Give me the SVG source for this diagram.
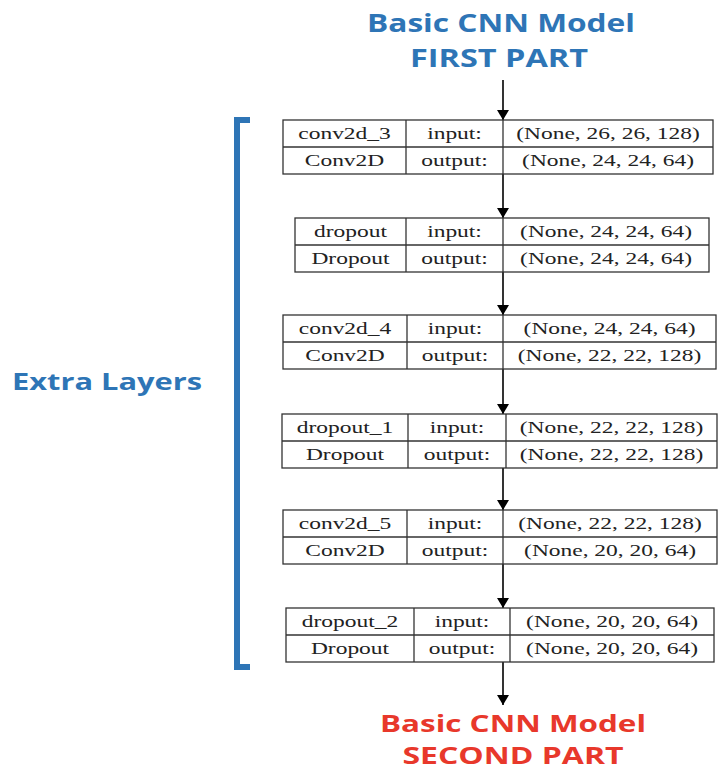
<svg xmlns="http://www.w3.org/2000/svg" width="718" height="771" viewBox="0 0 718 771">
<defs>
<marker id="ah" viewBox="0 0 10 12" refX="10" refY="6" markerWidth="10" markerHeight="12" markerUnits="userSpaceOnUse" orient="auto"><path d="M0,0 L10,6 L0,12 Z" fill="#000"/></marker>
<style>
.bx{fill:#fff;stroke:#333;stroke-width:1.3}
.ln{stroke:#333;stroke-width:1.3}
.t{font-family:"Liberation Serif","Times New Roman",serif;font-size:17px;fill:#222;text-anchor:middle}
.ti{font-family:"Open Sans","Noto Sans",sans-serif;font-weight:bold;text-anchor:middle}
.blue{fill:#2E75B6}
.red{fill:#E8382B}
.ar{stroke:#000;stroke-width:1.6;fill:none;marker-end:url(#ah)}
</style>
</defs>
<rect width="718" height="771" fill="#fff"/>

<g id="title-top">
<text class="ti blue" x="501" y="32" font-size="25" textLength="268" lengthAdjust="spacingAndGlyphs">Basic CNN Model</text>
<text class="ti blue" x="499" y="67" font-size="25" textLength="178" lengthAdjust="spacingAndGlyphs">FIRST PART</text>
</g>
<g id="title-bottom">
<text class="ti red" x="513" y="732" font-size="23" textLength="266" lengthAdjust="spacingAndGlyphs">Basic CNN Model</text>
<text class="ti red" x="513" y="764" font-size="23" textLength="221" lengthAdjust="spacingAndGlyphs">SECOND PART</text>
</g>
<g id="extra-layers">
<text class="ti blue" x="107" y="390" font-size="24" textLength="190" lengthAdjust="spacingAndGlyphs">Extra Layers</text>
<path d="M250,120 H237 V667 H250" fill="none" stroke="#2E75B6" stroke-width="6"/>
</g>

<g id="connectors">
<line class="ar" x1="503" y1="80" x2="503" y2="120"/>
<line class="ar" x1="503" y1="174" x2="503" y2="218"/>
<line class="ar" x1="503" y1="272" x2="503" y2="315"/>
<line class="ar" x1="503" y1="369" x2="503" y2="414"/>
<line class="ar" x1="503" y1="468" x2="503" y2="510"/>
<line class="ar" x1="503" y1="564" x2="503" y2="608"/>
<line class="ar" x1="503" y1="662" x2="503" y2="705"/>
</g>

<g id="conv2d_3">
<rect class="bx" x="283" y="120" width="430" height="54"/>
<line class="ln" x1="283" y1="147" x2="713" y2="147"/>
<line class="ln" x1="406" y1="120" x2="406" y2="174"/>
<line class="ln" x1="503" y1="120" x2="503" y2="174"/>
<text class="t" transform="translate(344.5,139) scale(1.38,1)">conv2d_3</text>
<text class="t" transform="translate(344.5,166) scale(1.38,1)">Conv2D</text>
<text class="t" transform="translate(454.5,139) scale(1.38,1)">input:</text>
<text class="t" transform="translate(454.5,166) scale(1.38,1)">output:</text>
<text class="t" transform="translate(608,139) scale(1.38,1)">(None, 26, 26, 128)</text>
<text class="t" transform="translate(608,166) scale(1.38,1)">(None, 24, 24, 64)</text>
</g>

<g id="dropout">
<rect class="bx" x="295" y="218" width="414" height="54"/>
<line class="ln" x1="295" y1="245" x2="709" y2="245"/>
<line class="ln" x1="406" y1="218" x2="406" y2="272"/>
<line class="ln" x1="503" y1="218" x2="503" y2="272"/>
<text class="t" transform="translate(350.5,237) scale(1.38,1)">dropout</text>
<text class="t" transform="translate(350.5,264) scale(1.38,1)">Dropout</text>
<text class="t" transform="translate(454.5,237) scale(1.38,1)">input:</text>
<text class="t" transform="translate(454.5,264) scale(1.38,1)">output:</text>
<text class="t" transform="translate(606,237) scale(1.38,1)">(None, 24, 24, 64)</text>
<text class="t" transform="translate(606,264) scale(1.38,1)">(None, 24, 24, 64)</text>
</g>

<g id="conv2d_4">
<rect class="bx" x="283" y="315" width="433" height="54"/>
<line class="ln" x1="283" y1="342" x2="716" y2="342"/>
<line class="ln" x1="407" y1="315" x2="407" y2="369"/>
<line class="ln" x1="503" y1="315" x2="503" y2="369"/>
<text class="t" transform="translate(345,334) scale(1.38,1)">conv2d_4</text>
<text class="t" transform="translate(345,361) scale(1.38,1)">Conv2D</text>
<text class="t" transform="translate(455,334) scale(1.38,1)">input:</text>
<text class="t" transform="translate(455,361) scale(1.38,1)">output:</text>
<text class="t" transform="translate(609.5,334) scale(1.38,1)">(None, 24, 24, 64)</text>
<text class="t" transform="translate(609.5,361) scale(1.38,1)">(None, 22, 22, 128)</text>
</g>

<g id="dropout_1">
<rect class="bx" x="282" y="414" width="435" height="54"/>
<line class="ln" x1="282" y1="441" x2="717" y2="441"/>
<line class="ln" x1="408" y1="414" x2="408" y2="468"/>
<line class="ln" x1="506" y1="414" x2="506" y2="468"/>
<text class="t" transform="translate(345,433) scale(1.38,1)">dropout_1</text>
<text class="t" transform="translate(345,460) scale(1.38,1)">Dropout</text>
<text class="t" transform="translate(457,433) scale(1.38,1)">input:</text>
<text class="t" transform="translate(457,460) scale(1.38,1)">output:</text>
<text class="t" transform="translate(611.5,433) scale(1.38,1)">(None, 22, 22, 128)</text>
<text class="t" transform="translate(611.5,460) scale(1.38,1)">(None, 22, 22, 128)</text>
</g>

<g id="conv2d_5">
<rect class="bx" x="283" y="510" width="434" height="54"/>
<line class="ln" x1="283" y1="537" x2="717" y2="537"/>
<line class="ln" x1="407" y1="510" x2="407" y2="564"/>
<line class="ln" x1="503" y1="510" x2="503" y2="564"/>
<text class="t" transform="translate(345,529) scale(1.38,1)">conv2d_5</text>
<text class="t" transform="translate(345,556) scale(1.38,1)">Conv2D</text>
<text class="t" transform="translate(455,529) scale(1.38,1)">input:</text>
<text class="t" transform="translate(455,556) scale(1.38,1)">output:</text>
<text class="t" transform="translate(610,529) scale(1.38,1)">(None, 22, 22, 128)</text>
<text class="t" transform="translate(610,556) scale(1.38,1)">(None, 20, 20, 64)</text>
</g>

<g id="dropout_2">
<rect class="bx" x="286" y="608" width="428" height="54"/>
<line class="ln" x1="286" y1="635" x2="714" y2="635"/>
<line class="ln" x1="414" y1="608" x2="414" y2="662"/>
<line class="ln" x1="510" y1="608" x2="510" y2="662"/>
<text class="t" transform="translate(350,627) scale(1.38,1)">dropout_2</text>
<text class="t" transform="translate(350,654) scale(1.38,1)">Dropout</text>
<text class="t" transform="translate(462,627) scale(1.38,1)">input:</text>
<text class="t" transform="translate(462,654) scale(1.38,1)">output:</text>
<text class="t" transform="translate(612,627) scale(1.38,1)">(None, 20, 20, 64)</text>
<text class="t" transform="translate(612,654) scale(1.38,1)">(None, 20, 20, 64)</text>
</g>
</svg>
